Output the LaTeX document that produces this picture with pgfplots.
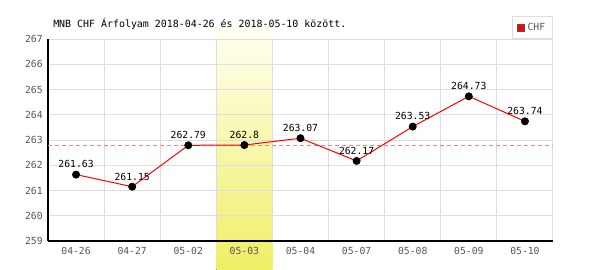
\documentclass[border=0pt]{standalone}
\usepackage{fontspec}
\setmainfont{DejaVu Sans Mono}
\usepackage{pgfplots}
\pgfplotsset{compat=1.18}
\usepackage{pgfplotstable}
\pgfplotsset{
  layers/mylayers/.define layer set={axis background,axis grid,axis ticks,axis lines,hl,axis tick labels,main,axis descriptions,axis foreground}{},
}
\definecolor{tickgray}{RGB}{85,85,85}
\definecolor{gridgray}{RGB}{221,221,221}
\definecolor{hltop}{RGB}{255,255,242}
\definecolor{hlbot}{RGB}{240,238,100}
\definecolor{dashred}{RGB}{255,130,130}
\pgfplotstableread{
x y label
0 261.63 261.63
1 261.15 261.15
2 262.79 262.79
3 262.80 262.8
4 263.07 263.07
5 262.17 262.17
6 263.53 263.53
7 264.73 264.73
8 263.74 263.74
}\chfdata
\begin{document}
\begin{tikzpicture}
\node[anchor=base west, font=\fontsize{7.45}{8}\selectfont, inner sep=0pt] at (39.75pt,182pt) {MNB CHF Árfolyam 2018-04-26 és 2018-05-10 között.};
\begin{axis}[
  at={(36pt,21.75pt)}, anchor=south west,
  scale only axis, width=378.75pt, height=151.5pt,
  set layers=mylayers,
  clip=false,
  xmin=-0.5, xmax=8.5, ymin=259, ymax=267,
  xtick={0,...,8},
  xticklabels={04-26,04-27,05-02,05-03,05-04,05-07,05-08,05-09,05-10},
  minor xtick={0.5,1.5,...,8.5},
  ytick={259,...,267},
  major tick length=0pt, minor tick length=0pt,
  ymajorgrids, xminorgrids,
  major grid style={draw=gridgray, line width=0.75pt},
  minor grid style={draw=gridgray, line width=0.75pt},
  axis x line*=bottom, axis y line*=left,
  axis line style={-, black, line width=0.8pt},
  tick label style={font=\fontsize{7.3}{8}\selectfont, text=tickgray},
  xticklabel style={yshift=-1pt},
  yticklabel style={xshift=-0.5pt},
  /pgf/number format/assume math mode=true,
  legend style={at={(1,1)}, anchor=south east, draw=gridgray, line width=0.75pt, fill=white,
    font=\fontsize{7.3}{8}\selectfont, text=tickgray, inner xsep=3.5pt, inner ysep=2.8pt},
  legend cell align=left,
]
\begin{pgfonlayer}{hl}
\fill[top color=hltop, bottom color=hlbot] (axis cs:2.5,257.85) rectangle (axis cs:3.5,267.44);
\end{pgfonlayer}
\addplot[color=dashred, line width=0.75pt, dash pattern=on 3pt off 2.25pt, forget plot] coordinates {(-0.5,262.8) (8.5,262.8)};
\addplot[color=red, line width=0.75pt, mark=*, mark size=2.6pt, mark options={fill=black, draw=black},
  nodes near coords, point meta=explicit symbolic,
  every node near coord/.append style={font=\fontsize{7.3}{8}\selectfont, text=black, anchor=south, inner sep=0pt, yshift=4.5pt},
  forget plot] table[x=x, y=y, meta=label] {\chfdata};
\addlegendimage{legend image code/.code={\draw[fill=red, draw=tickgray, line width=0.6pt] (0pt,-2.6pt) rectangle (5.2pt,2.6pt);}}
\addlegendentry{CHF}
\end{axis}
\pgfresetboundingbox
\useasboundingbox (0,0) rectangle (450pt,202.5pt);
\end{tikzpicture}
\end{document}
